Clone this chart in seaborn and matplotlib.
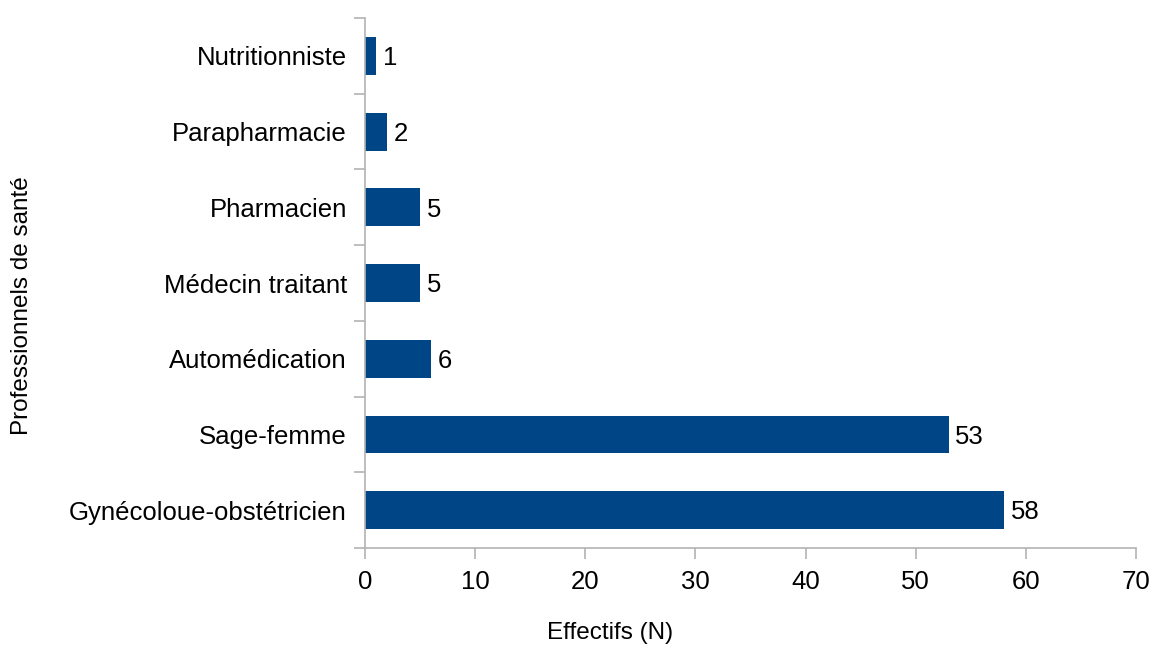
import seaborn as sns
import matplotlib.pyplot as plt
import pandas as pd

categories = ['Nutritionniste', 'Parapharmacie', 'Pharmacien', 'Médecin traitant',
              'Automédication', 'Sage-femme', 'Gynécoloue-obstétricien']
effectifs = [1, 2, 5, 5, 6, 53, 58]

if __name__ == "__main__":
    sns.set_style('white')
    plt.rcParams['font.family'] = ['Liberation Sans', 'DejaVu Sans']

    df = pd.DataFrame({'cat': categories, 'n': effectifs})

    fig = plt.figure(figsize=(11.54, 6.46), dpi=100)
    ax = fig.add_axes([0.3163, 0.1517, 0.9844 - 0.3163, 0.9721 - 0.1517])

    sns.barplot(data=df, y='cat', x='n', orient='h', color='#004586',
                saturation=1, width=0.5, linewidth=0, ax=ax)

    for i, v in enumerate(effectifs):
        ax.text(v + 0.6, i + 0.03, str(v), va='center', ha='left', fontsize=18.5, color='black')

    ax.set_xlim(0, 70)
    ax.set_ylim(6.5, -0.5)
    ax.set_xticks(range(0, 71, 10))
    # ticks at category boundaries, labels in the middle
    ax.set_yticks([i - 0.5 for i in range(8)], minor=False)
    ax.set_yticklabels([])
    ax.set_yticks(range(7), minor=True)
    ax.set_yticklabels(categories, minor=True)

    ax.tick_params(axis='y', which='major', left=True, length=8, color='#b3b3b3', width=1.2)
    ax.tick_params(axis='y', which='minor', left=False, length=0, labelsize=18.5,
                   pad=13, labelcolor='black')
    ax.tick_params(axis='x', bottom=True, length=8, color='#b3b3b3', width=1.2,
                   labelsize=18.5, pad=8, labelcolor='black')

    for side in ['top', 'right']:
        ax.spines[side].set_visible(False)
    for side in ['left', 'bottom']:
        ax.spines[side].set_color('#b3b3b3')
        ax.spines[side].set_linewidth(1.2)

    ax.set_xlabel('Effectifs (N)', fontsize=17.5, color='black', va='center')
    ax.set_ylabel('Professionnels de santé', fontsize=17.5, color='black', va='center')
    ax.xaxis.set_label_coords(610 / 1154, 1 - 633 / 646, transform=fig.transFigure)
    ax.yaxis.set_label_coords(22 / 1154, 1 - 306 / 646, transform=fig.transFigure)

    fig.savefig('out.png', dpi=100)
